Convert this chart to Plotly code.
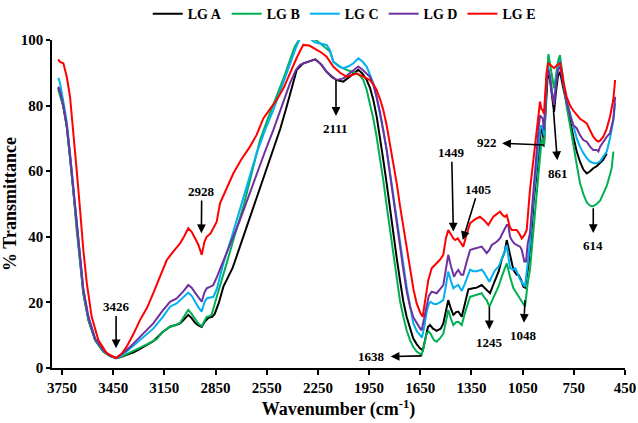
import plotly.graph_objects as go

# ---------------- data ----------------
wn_a = [3772, 3762, 3742, 3722, 3703, 3684, 3664, 3644, 3625, 3595, 3556, 3508, 3470, 3433, 3400, 3371, 3330, 3293, 3250, 3215,
        3160, 3117, 3078, 3058, 3035, 3010, 2990, 2970, 2950, 2931, 2915, 2892, 2870, 2855, 2830, 2804, 2750, 2707, 2660, 2609,
        2560, 2511, 2470, 2433, 2400, 2374, 2336, 2300, 2265, 2230, 2199, 2170, 2140, 2101, 2062, 2013, 1990, 1964, 1945, 1925,
        1905, 1886, 1867, 1847, 1828, 1808, 1788, 1769, 1750, 1730, 1710, 1691, 1670, 1652, 1635, 1620, 1605, 1593, 1575, 1554,
        1530, 1515, 1500, 1486, 1470, 1456, 1440, 1427, 1407, 1390, 1368, 1340, 1319, 1290, 1275, 1261, 1241, 1225, 1212, 1190,
        1173, 1155, 1143, 1124, 1104, 1085, 1075, 1060, 1046, 1036, 1017, 1000, 985, 968, 955, 948, 940, 932, 925, 918,
        910, 902, 890, 878, 866, 855, 843, 831, 820, 810, 792, 772, 753, 733, 714, 694, 674, 655, 636, 616,
        596, 577, 557]
t_a = [85.5, 84.0, 79.7, 73.6, 64.4, 54.3, 42.1, 31.9, 22.8, 14.6, 8.5, 5.0, 3.7, 3.0, 3.4, 4.0, 4.8, 5.8, 7.0, 8.2,
       11.0, 12.6, 13.2, 13.6, 14.8, 16.2, 15.2, 13.8, 13.0, 12.5, 14.0, 15.3, 15.6, 16.5, 20.0, 24.8, 30.5, 37.0, 44.0, 52.2,
       59.5, 66.5, 73.0, 79.7, 86.0, 90.9, 92.9, 93.5, 94.1, 92.5, 90.3, 88.8, 87.8, 87.3, 88.8, 90.9, 89.8, 87.8, 85.5, 81.7,
       76.5, 70.5, 63.5, 56.3, 48.5, 41.1, 33.5, 26.8, 20.5, 15.6, 11.8, 9.0, 7.2, 6.0, 5.4, 9.5, 12.5, 13.1, 12.0, 11.3,
       12.0, 13.6, 17.5, 20.7, 18.0, 16.2, 17.0, 17.2, 15.6, 19.0, 24.0, 24.3, 24.5, 25.3, 24.5, 23.8, 22.8, 25.0, 26.8, 29.5,
       33.0, 35.5, 39.0, 34.0, 29.9, 28.4, 28.4, 27.0, 24.8, 24.5, 30.9, 40.0, 51.0, 59.3, 66.0, 70.5, 74.0, 72.0, 67.5, 76.0,
       84.0, 90.3, 88.0, 82.0, 78.1, 84.0, 89.0, 90.3, 88.0, 85.0, 80.7, 75.0, 70.5, 66.0, 62.9, 60.5, 59.3, 60.0, 60.9, 61.5,
       62.4, 63.5, 65.4]

wn_b = [3772, 3762, 3742, 3722, 3703, 3684, 3664, 3644, 3625, 3595, 3556, 3508, 3470, 3433, 3400, 3371, 3330, 3293, 3250, 3195,
        3160, 3117, 3078, 3058, 3035, 3010, 2990, 2970, 2950, 2931, 2915, 2902, 2885, 2873, 2843, 2815, 2785, 2740, 2687, 2640,
        2589, 2540, 2492, 2450, 2414, 2385, 2355, 2320, 2277, 2238, 2199, 2179, 2160, 2120, 2081, 2050, 2023, 2000, 1984, 1965,
        1945, 1925, 1906, 1886, 1867, 1847, 1828, 1808, 1788, 1769, 1749, 1730, 1710, 1690, 1671, 1642, 1625, 1613, 1600, 1590,
        1570, 1554, 1535, 1515, 1500, 1486, 1470, 1456, 1440, 1427, 1407, 1390, 1358, 1340, 1319, 1290, 1275, 1261, 1245, 1230,
        1212, 1190, 1173, 1155, 1143, 1124, 1104, 1085, 1065, 1046, 1036, 1020, 1007, 990, 968, 955, 948, 940, 932, 925,
        918, 910, 899, 890, 880, 866, 855, 843, 831, 820, 810, 792, 772, 753, 733, 714, 694, 674, 655, 636,
        616, 596, 577, 557, 538, 528, 518]
t_b = [84.8, 83.0, 79.7, 73.6, 64.4, 54.3, 42.1, 31.9, 22.8, 14.6, 8.5, 5.0, 3.7, 3.0, 3.5, 4.2, 5.2, 6.3, 7.3, 8.8,
       11.0, 12.6, 13.2, 13.8, 15.5, 17.7, 16.5, 14.8, 13.5, 12.8, 14.5, 15.6, 15.8, 16.2, 21.7, 27.0, 31.9, 40.0, 49.2, 59.0,
       69.5, 76.5, 82.7, 88.5, 93.9, 98.0, 100.5, 100.6, 100.5, 99.0, 97.5, 96.5, 93.4, 91.8, 90.9, 90.3, 89.8, 89.0, 87.8, 85.0,
       80.7, 76.0, 70.5, 64.0, 57.3, 49.5, 42.1, 34.0, 26.8, 20.5, 15.6, 11.5, 8.5, 6.3, 5.0, 4.0, 7.5, 10.5, 11.1, 10.5,
       8.5, 8.0, 9.0, 10.5, 14.0, 17.7, 15.0, 13.1, 14.0, 14.1, 13.1, 16.5, 21.7, 22.0, 22.3, 22.8, 21.5, 20.7, 18.7, 20.5,
       22.8, 25.0, 27.8, 30.0, 31.9, 27.8, 24.3, 22.8, 21.2, 19.5, 18.7, 26.0, 29.9, 40.0, 52.2, 60.0, 64.0, 69.0, 70.0, 67.5,
       76.0, 87.0, 95.7, 93.0, 89.0, 85.3, 89.0, 93.5, 95.4, 91.0, 86.0, 79.7, 74.0, 67.5, 62.0, 56.5, 53.0, 50.5, 49.5, 49.3,
       50.0, 51.0, 53.0, 55.5, 59.0, 61.0, 66.0]

wn_c = [3772, 3762, 3742, 3722, 3703, 3684, 3664, 3644, 3625, 3595, 3556, 3508, 3470, 3433, 3400, 3371, 3330, 3293, 3250, 3215,
        3160, 3117, 3078, 3040, 3010, 2990, 2970, 2950, 2931, 2915, 2902, 2880, 2863, 2843, 2804, 2755, 2707, 2660, 2609, 2560,
        2511, 2460, 2414, 2380, 2355, 2320, 2296, 2270, 2238, 2199, 2180, 2160, 2130, 2101, 2070, 2042, 2013, 1990, 1964, 1945,
        1925, 1906, 1886, 1867, 1847, 1828, 1808, 1788, 1769, 1750, 1730, 1710, 1691, 1670, 1652, 1640, 1625, 1613, 1600, 1590,
        1570, 1554, 1535, 1515, 1500, 1486, 1470, 1456, 1440, 1427, 1407, 1390, 1358, 1340, 1319, 1290, 1275, 1261, 1245, 1230,
        1212, 1190, 1173, 1155, 1143, 1124, 1104, 1094, 1085, 1065, 1046, 1036, 1020, 1007, 990, 968, 955, 948, 940, 932,
        925, 918, 910, 900, 890, 878, 866, 855, 843, 831, 820, 810, 792, 772, 753, 733, 714, 694, 674, 655,
        636, 616, 596, 577, 557, 538, 518, 508]
t_c = [88.5, 87.0, 81.2, 75.0, 65.5, 55.5, 43.5, 33.0, 24.0, 15.5, 9.0, 5.3, 3.8, 3.0, 3.8, 5.0, 6.8, 8.5, 10.3, 12.0,
       15.5, 18.7, 19.7, 21.5, 23.0, 22.0, 20.2, 18.5, 17.2, 20.0, 21.2, 21.5, 21.7, 24.0, 31.9, 40.0, 48.2, 57.0, 65.5, 72.5,
       78.7, 86.0, 92.9, 97.5, 100.5, 100.6, 100.5, 99.3, 99.0, 98.5, 97.0, 93.4, 92.0, 91.4, 92.0, 92.9, 94.4, 93.5, 91.9, 89.5,
       86.8, 82.5, 77.6, 72.5, 66.5, 59.5, 52.2, 45.0, 38.0, 31.0, 24.8, 19.0, 13.6, 11.2, 10.0, 9.3, 13.0, 17.0, 19.5, 20.2,
       19.5, 19.5, 20.0, 20.7, 25.0, 29.4, 26.5, 24.3, 25.0, 25.3, 23.5, 25.5, 30.0, 29.5, 29.5, 30.0, 29.0, 27.8, 26.3, 28.0,
       29.8, 31.0, 33.0, 35.5, 37.5, 30.5, 30.0, 30.4, 29.5, 27.0, 25.5, 24.8, 32.0, 38.0, 50.0, 62.4, 69.0, 72.6, 74.0, 73.0,
       71.0, 80.0, 88.0, 91.9, 89.0, 84.0, 81.2, 87.0, 92.0, 93.9, 90.0, 86.5, 81.7, 77.5, 73.6, 70.0, 67.5, 65.5, 64.0, 62.9,
       62.5, 62.4, 63.0, 64.3, 66.0, 70.0, 75.6, 80.7]

wn_d = [3772, 3762, 3742, 3722, 3703, 3684, 3664, 3644, 3625, 3595, 3556, 3508, 3470, 3433, 3400, 3371, 3330, 3293, 3250, 3215,
        3160, 3117, 3078, 3040, 3010, 2990, 2970, 2950, 2931, 2915, 2902, 2880, 2863, 2840, 2804, 2755, 2707, 2660, 2609, 2560,
        2511, 2460, 2414, 2380, 2355, 2300, 2265, 2230, 2199, 2170, 2140, 2101, 2062, 2013, 1990, 1964, 1945, 1925, 1906, 1886,
        1867, 1847, 1828, 1808, 1788, 1769, 1749, 1730, 1710, 1691, 1671, 1655, 1642, 1628, 1613, 1600, 1583, 1570, 1554, 1535,
        1515, 1500, 1486, 1470, 1452, 1440, 1427, 1410, 1398, 1380, 1358, 1340, 1319, 1290, 1275, 1261, 1245, 1231, 1202, 1183,
        1163, 1143, 1134, 1124, 1114, 1100, 1085, 1065, 1055, 1040, 1030, 1020, 1007, 990, 968, 955, 948, 940, 932, 925,
        918, 910, 900, 890, 878, 866, 855, 843, 831, 820, 810, 792, 772, 753, 733, 714, 694, 674, 655, 636,
        616, 606, 596, 577, 557, 538, 518, 508]
t_d = [85.8, 84.5, 80.0, 74.0, 65.0, 55.0, 43.0, 33.0, 24.0, 15.5, 9.0, 5.5, 3.8, 3.0, 4.2, 5.5, 7.5, 9.5, 11.8, 13.6,
       17.5, 20.2, 21.2, 23.3, 25.3, 24.5, 23.0, 21.5, 20.2, 23.0, 24.3, 24.8, 25.3, 28.0, 32.9, 39.0, 45.1, 52.0, 59.3, 66.0,
       72.6, 80.0, 86.8, 90.8, 92.4, 93.5, 94.1, 92.5, 90.3, 89.0, 87.8, 88.3, 89.8, 91.9, 91.0, 89.8, 88.8, 86.3, 82.7, 78.0,
       72.6, 66.5, 59.3, 51.5, 44.1, 37.0, 29.9, 23.5, 18.7, 15.5, 13.6, 12.4, 11.5, 15.0, 19.5, 22.0, 23.3, 23.0, 22.8, 24.0,
       25.3, 30.0, 34.5, 31.0, 27.8, 29.0, 29.9, 28.4, 28.4, 32.0, 36.0, 36.3, 36.5, 37.0, 36.0, 35.0, 36.0, 37.5, 38.5, 39.5,
       41.6, 43.6, 43.6, 40.0, 39.0, 38.0, 37.5, 37.0, 36.0, 32.5, 32.5, 38.0, 41.1, 52.0, 67.5, 74.0, 77.0, 76.6, 76.0, 72.6,
       80.0, 88.0, 90.9, 89.0, 84.0, 80.2, 86.0, 91.0, 91.9, 89.0, 85.5, 81.2, 77.0, 74.0, 73.1, 71.0, 69.5, 69.0, 67.5, 66.5,
       66.5, 66.0, 67.5, 69.0, 70.5, 71.6, 76.0, 82.7]

wn_e = [3772, 3762, 3742, 3722, 3703, 3684, 3664, 3644, 3625, 3605, 3576, 3537, 3488, 3433, 3400, 3371, 3330, 3293, 3250, 3215,
        3175, 3136, 3098, 3058, 3035, 3010, 2990, 2970, 2950, 2931, 2915, 2902, 2880, 2863, 2843, 2824, 2790, 2746, 2700, 2648,
        2610, 2570, 2530, 2492, 2450, 2414, 2375, 2336, 2300, 2257, 2230, 2199, 2160, 2120, 2081, 2050, 2023, 1990, 1964, 1945,
        1925, 1906, 1886, 1867, 1847, 1828, 1808, 1788, 1769, 1749, 1730, 1710, 1690, 1671, 1650, 1636, 1620, 1603, 1583, 1554,
        1535, 1515, 1500, 1486, 1470, 1456, 1446, 1430, 1417, 1398, 1380, 1358, 1330, 1300, 1275, 1251, 1235, 1222, 1200, 1183,
        1165, 1153, 1143, 1125, 1114, 1085, 1070, 1055, 1040, 1026, 1007, 990, 977, 960, 948, 940, 932, 925, 918, 910,
        900, 890, 878, 866, 855, 843, 831, 820, 810, 792, 772, 753, 733, 714, 694, 674, 655, 636, 616, 606,
        596, 577, 557, 538, 518, 508]
t_e = [94.1, 93.3, 92.9, 88.8, 82.7, 72.6, 60.4, 48.2, 36.0, 26.0, 15.6, 8.5, 4.5, 3.0, 4.3, 6.5, 10.5, 14.6, 18.5, 22.8,
       28.0, 32.9, 35.5, 38.0, 40.0, 42.6, 41.5, 39.5, 37.5, 34.5, 38.5, 40.0, 41.0, 42.6, 44.6, 50.2, 54.0, 59.3, 63.5, 67.5,
       71.0, 76.1, 79.0, 81.7, 85.5, 89.8, 94.5, 98.5, 98.3, 97.0, 96.2, 94.9, 91.9, 90.0, 88.8, 89.3, 89.8, 89.0, 88.3, 87.8,
       86.5, 84.8, 82.0, 78.7, 74.0, 68.5, 62.5, 56.3, 49.5, 43.1, 36.5, 29.9, 24.0, 19.7, 16.8, 15.6, 21.0, 26.8, 30.4, 31.9,
       33.0, 34.5, 39.5, 42.1, 40.5, 39.5, 39.0, 39.5, 38.5, 37.0, 40.5, 44.1, 45.3, 46.1, 45.0, 43.6, 45.0, 46.1, 47.0, 47.7,
       46.5, 46.1, 46.6, 43.0, 42.1, 42.1, 41.0, 39.5, 40.5, 42.1, 54.3, 62.0, 67.5, 77.0, 81.2, 79.0, 78.5, 77.5, 85.0, 90.0,
       93.0, 92.5, 92.0, 91.4, 92.0, 92.5, 93.0, 90.5, 87.0, 82.7, 80.0, 78.5, 77.1, 76.0, 75.3, 74.6, 72.5, 70.5, 69.3, 69.0,
       69.3, 70.5, 73.0, 76.6, 82.0, 87.8]

series_names = ["LG A", "LG B", "LG C", "LG D", "LG E"]
series_colors = ["#000000", "#00b050", "#00b0f0", "#7030a0", "#ff0000"]
series_wn = [wn_a, wn_b, wn_c, wn_d, wn_e]
series_t = [t_a, t_b, t_c, t_d, t_e]

x_ticks = [3750, 3450, 3150, 2850, 2550, 2250, 1950, 1650, 1350, 1050, 750, 450]
y_ticks = [0, 20, 40, 60, 80, 100]

# peak labels: label text & its position, the arrow end that is away from the label,
# and whether the arrow head sits at the spectrum ("end") or next to the label ("start")
peak_labels = ["3426", "2928", "2111", "1638", "1449", "1405", "922", "861", "614", "1245", "1048"]
label_x = [3433, 2931, 2144, 1935, 1466, 1310, 1261, 841, 636, 1245, 1046]
label_y = [18.6, 53.8, 72.9, 3.4, 65.6, 54.5, 68.7, 59.4, 37.2, 7.8, 9.8]
point_x = [3433, 2933, 2144, 1642, 1456, 1401, 925, 869, 636, 1245, 1036]
point_y = [6.0, 41.1, 87.8, 3.7, 41.6, 39.0, 68.0, 78.4, 48.7, 18.7, 20.7]
head_side = ["end", "end", "start", "start", "end", "end", "start", "start", "start", "start", "start"]

# ---------------- figure ----------------
FONT = "Liberation Serif"
fig = go.Figure()
for name, wn, t, col in zip(series_names, series_wn, series_t, series_colors):
    fig.add_trace(go.Scatter(x=wn, y=t, mode="lines", name="<b>" + name + "</b>",
                             line=dict(color=col, width=2)))

annotations = []
for lab, lx, ly, px_, py_, side in zip(peak_labels, label_x, label_y, point_x, point_y, head_side):
    annotations.append(dict(x=px_, y=py_, ax=lx, ay=ly, xref="x", yref="y", axref="x", ayref="y",
                            text="<b>" + lab + "</b>", showarrow=True, arrowhead=2, startarrowhead=2,
                            arrowside=side, arrowsize=1.1, startarrowsize=1.1,
                            arrowwidth=1.6, arrowcolor="#000000",
                            startstandoff=4 if side == "start" else 0,
                            xanchor="center", yanchor="middle",
                            font=dict(family=FONT, size=13, color="#000000")))

fig.update_layout(
    width=638, height=423,
    margin=dict(l=52, r=13, t=40, b=55, autoexpand=False),
    paper_bgcolor="white", plot_bgcolor="white",
    font=dict(family=FONT, color="#000000"),
    showlegend=True,
    legend=dict(orientation="h", x=0.51, xanchor="center", y=1.079, yanchor="middle",
                font=dict(family=FONT, size=14, color="#000000"),
                itemwidth=30, tracegroupgap=0, bgcolor="rgba(0,0,0,0)"),
    annotations=annotations,
)

fig.update_xaxes(range=[3808.6, 450], tickvals=x_ticks, ticktext=["<b>%d</b>" % v for v in x_ticks],
                 showline=True, linecolor="#000000", linewidth=1.5, mirror=False,
                 ticks="outside", ticklen=5, tickwidth=1.5, tickcolor="#000000",
                 showgrid=False, zeroline=False, automargin=False,
                 tickfont=dict(family=FONT, size=15, color="#000000"),
                 title=dict(text="<b>Wavenumber (cm<sup>-1</sup>)</b>", standoff=8,
                            font=dict(family=FONT, size=18, color="#000000")))
fig.update_yaxes(range=[0, 100], tickvals=y_ticks, ticktext=["<b>%d</b>" % v for v in y_ticks],
                 showline=True, linecolor="#000000", linewidth=1.5,
                 ticks="outside", ticklen=4, tickwidth=1.5, tickcolor="#000000",
                 showgrid=False, zeroline=False, automargin=False,
                 tickfont=dict(family=FONT, size=15, color="#000000"),
                 title=dict(text="<b>% Transmittance</b>", standoff=6,
                            font=dict(family=FONT, size=18, color="#000000")))

fig.write_html("out.html", config={"displayModeBar": False},
               post_script="document.body.style.margin='0px';document.body.style.overflow='hidden';")
